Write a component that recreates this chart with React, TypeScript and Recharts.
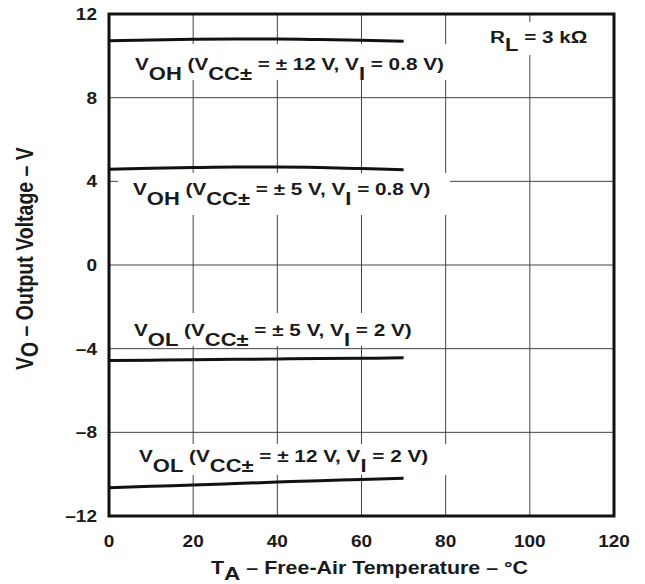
import { LineChart, Line, XAxis, YAxis, CartesianGrid, ReferenceArea } from "recharts";

const temps = [0, 10, 20, 30, 40, 50, 60, 70];
const vohHigh = [10.72, 10.76, 10.79, 10.8, 10.8, 10.78, 10.75, 10.7];
const vohLow = [4.58, 4.63, 4.66, 4.68, 4.68, 4.66, 4.61, 4.55];
const volLow = [-4.57, -4.55, -4.53, -4.51, -4.49, -4.47, -4.46, -4.44];
const volHigh = [-10.65, -10.58, -10.52, -10.45, -10.38, -10.31, -10.25, -10.19];

const xTicks = [0, 20, 40, 60, 80, 100, 120];
const yTicks = [-12, -8, -4, 0, 4, 8, 12];

const data = temps.map((t, i) => ({
    t,
    vohHigh: vohHigh[i],
    vohLow: vohLow[i],
    volLow: volLow[i],
    volHigh: volHigh[i],
}));

const W = 645;
const H = 584;
const FONT = "'Liberation Sans', Arial, Helvetica, sans-serif";
const INK = "#1a1a1a";
const SX = 1.22; // the original lettering is wider than plain Arial

const PL = 109, PR = 614, PT = 14, PB = 516;

type Part = [string, boolean];

function Rich({ x, y, parts, size = 17, sub = 18, shift = 10, sx = SX, rotate = 0 }: { x: number; y: number; parts: Part[]; size?: number; sub?: number; shift?: number; sx?: number; rotate?: number }) {
    let down = false;
    return (
        <text
            transform={`translate(${x} ${y}) scale(${sx} 1) rotate(${rotate})`}
            fontFamily={FONT}
            fontWeight="bold"
            fontSize={size}
            fill={INK}
        >
            {parts.map(([s, isSub], i) => {
                let dy = 0;
                if (isSub && !down) { dy = shift; down = true; }
                else if (!isSub && down) { dy = -shift; down = false; }
                return (
                    <tspan key={i} dy={dy} fontSize={isSub ? sub : size}>{s}</tspan>
                );
            })}
        </text>
    );
}

// text start / baseline and the white patch behind each curve label (pixels)
const curveLabels: { x: number; y: number; box: [number, number, number, number]; parts: Part[] }[] = [
    {
        x: 135, y: 70, box: [128, 44, 452, 80],
        parts: [["V", false], ["OH", true], [" (V", false], ["CC\u00b1", true], [" = \u00b1 12 V, V", false], ["I", true], [" = 0.8 V)", false]],
    },
    {
        x: 133, y: 195, box: [118, 173, 450, 215],
        parts: [["V", false], ["OH", true], [" (V", false], ["CC\u00b1", true], [" = \u00b1 5 V, V", false], ["I", true], [" = 0.8 V)", false]],
    },
    {
        x: 134, y: 336, box: [125, 313, 420, 346],
        parts: [["V", false], ["OL", true], [" (V", false], ["CC\u00b1", true], [" = \u00b1 5 V, V", false], ["I", true], [" = 2 V)", false]],
    },
    {
        x: 139, y: 462, box: [130, 444, 450, 475],
        parts: [["V", false], ["OL", true], [" (V", false], ["CC\u00b1", true], [" = \u00b1 12 V, V", false], ["I", true], [" = 2 V)", false]],
    },
];

function Overlay() {
    return (
        <svg width={W} height={H} style={{ position: "absolute", left: 0, top: 0, pointerEvents: "none" }}>
            {curveLabels.map((l, i) => (
                <g key={i}>
                    <rect x={l.box[0]} y={l.box[1]} width={l.box[2] - l.box[0]} height={l.box[3] - l.box[1]} fill="#fff" />
                    <Rich x={l.x} y={l.y} parts={l.parts} />
                </g>
            ))}
            <rect x={485} y={22} width={110} height={33} fill="#fff" />
            <Rich x={490} y={43} parts={[["R", false], ["L", true], [" = 3 k\u03a9", false]]} shift={8} />
            <Rich x={211} y={574} size={18} sub={19} shift={6} sx={1.19} parts={[["T", false], ["A", true], [" \u2013 Free-Air Temperature \u2013 \u00b0C", false]]} />
            <Rich x={33} y={370} size={19.5} sub={19.5} shift={4} rotate={-90} parts={[["V", false], ["O", true], [" \u2013 Output Voltage \u2013 V", false]]} />
        </svg>
    );
}

const fmt = (v: number) => (v < 0 ? "\u2013" + Math.abs(v) : String(v));

function Tick(props: any) {
    const { x, y, payload, textAnchor, axis } = props;
    return (
        <text
            transform={`translate(${x} ${y}) scale(1.12 1)`}
            textAnchor={textAnchor}
            dy={axis === "x" ? "0.71em" : "0.355em"}
            fontFamily={FONT}
            fontWeight="bold"
            fontSize={17}
            fill={INK}
        >
            {fmt(payload.value)}
        </text>
    );
}

export default function App() {
    return (
        <div style={{ position: "absolute", left: 0, top: 0, width: W, height: H, background: "#fff" }}>
            <LineChart width={W} height={H} data={data} margin={{ top: PT, right: W - PR, left: 0, bottom: 0 }}>
                <CartesianGrid stroke="#444" strokeWidth={1} />
                <XAxis
                    dataKey="t"
                    type="number"
                    domain={[0, 120]}
                    ticks={xTicks}
                    height={H - PB}
                    axisLine={false}
                    tickLine={false}
                    tickSize={6}
                    tickMargin={13}
                    tick={(p: any) => <Tick {...p} axis="x" />}
                />
                <YAxis
                    type="number"
                    domain={[-12, 12]}
                    ticks={yTicks}
                    width={PL}
                    axisLine={false}
                    tickLine={false}
                    tickSize={6}
                    tickMargin={6}
                    tick={(p: any) => <Tick {...p} axis="y" />}
                />
                <ReferenceArea x1={0} x2={120} y1={-12} y2={12} fill="none" stroke="#111" strokeWidth={3} />
                <Line dataKey="vohHigh" type="monotone" stroke="#111" strokeWidth={3} dot={false} isAnimationActive={false} />
                <Line dataKey="vohLow" type="monotone" stroke="#111" strokeWidth={3} dot={false} isAnimationActive={false} />
                <Line dataKey="volLow" type="monotone" stroke="#111" strokeWidth={3} dot={false} isAnimationActive={false} />
                <Line dataKey="volHigh" type="monotone" stroke="#111" strokeWidth={3} dot={false} isAnimationActive={false} />
            </LineChart>
            <Overlay />
        </div>
    );
}
